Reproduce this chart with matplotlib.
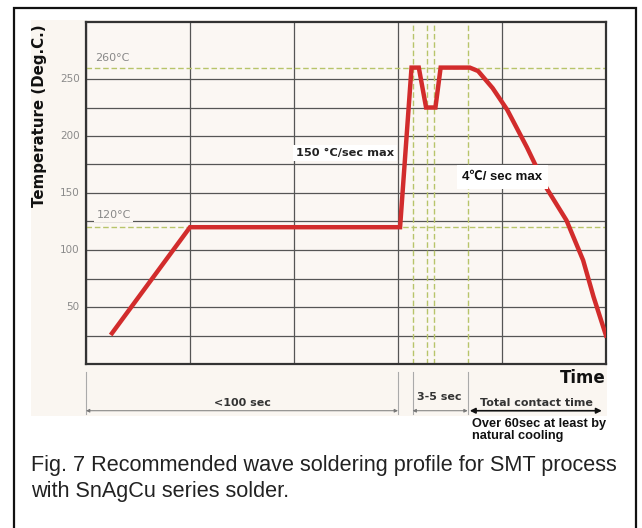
import matplotlib.pyplot as plt
from matplotlib.patches import Rectangle

# profile (time in arbitrary units, temperature in deg C)
time_pts = [25, 100, 302, 313, 320, 327, 336, 341, 369, 377, 391, 405, 424, 443, 462, 478, 488, 500]
temp_pts = [27, 120, 120, 260, 260, 225, 225, 260, 260, 257, 242, 223, 190, 154, 126, 91, 59, 25]

y_ticks = [50, 100, 150, 200, 250]
ref_temps = [260, 120]
ref_times = [314, 328, 335, 367]

W, H = 642, 528
fig = plt.figure(figsize=(W / 100, H / 100), dpi=100)
fig.patch.set_facecolor('white')

# outer frame and cream picture area
fig.add_artist(Rectangle((14 / W, -0.05), 622 / W, 1 - 8 / H + 0.05, transform=fig.transFigure,
                         fill=False, ec='#111111', lw=1.6))
fig.add_artist(Rectangle((31 / W, 1 - 416 / H), 576 / W, 396 / H, transform=fig.transFigure,
                         fc='#faf6f1', ec='none', zorder=0))

bg = '#fbf7f3'
ax = fig.add_axes([86 / W, 1 - 364 / H, 520 / W, 342 / H])
ax.set_facecolor(bg)
ax.set_xlim(0, 500)
ax.set_ylim(0, 300)
ax.set_xticks(range(0, 501, 100))
ax.set_yticks(range(0, 251, 25))
ax.grid(True, color='#555555', lw=0.9)
ax.tick_params(length=0, labelbottom=False, labelleft=False)
for s in ax.spines.values():
    s.set_color('#333333')
    s.set_linewidth(1.6)

for y in y_ticks:
    ax.text(-6, y, str(y), ha='right', va='center', fontsize=7.5, color='#8a8a8a')

for t in ref_temps:
    ax.axhline(t, color='#b8c46a', lw=1.0, ls=(0, (4, 2)), zorder=2)
for t in ref_times:
    ax.axvline(t, color='#b8c46a', lw=1.0, ls=(0, (4, 2)), zorder=2)

ax.text(9, 268, '260\u00b0C', fontsize=8, color='#888888', va='center',
        bbox=dict(fc=bg, ec='none', pad=1), zorder=3)
ax.text(10, 131, '120\u00b0C', fontsize=8, color='#888888', va='center',
        bbox=dict(fc=bg, ec='none', pad=1.5), zorder=3)

ax.plot(time_pts, temp_pts, color='#d22c2c', lw=3.2, solid_joinstyle='miter', zorder=4)

ax.text(202, 185, '150 \u00b0C/sec max', fontsize=8.2, fontweight='bold', color='#222222',
        va='center', ha='left', bbox=dict(fc='white', ec='none', pad=2), zorder=5)
ax.text(362, 164, '4\u2103/ sec max', fontsize=9.5, fontweight='bold', color='#111111',
        va='center', ha='left', bbox=dict(fc='white', ec='none', pad=4), zorder=5,
        family=['Liberation Sans', 'Noto Sans CJK SC', 'DejaVu Sans'])

fig.text(40 / W, 1 - 116 / H, 'Temperature (Deg.C.)', rotation=90, ha='center', va='center',
         fontsize=10.8, fontweight='bold', color='#111111')

# dimension lines below the axis
y_arr = -41
for x in [0, 300, 314, 367]:
    ax.plot([x, x], [-7, -44], color='#aaaaaa', lw=0.8, clip_on=False)
for x0, x1 in [(0, 300), (314, 367)]:
    ax.annotate('', xy=(x0, y_arr), xytext=(x1, y_arr),
                arrowprops=dict(arrowstyle='<|-|>', color='#777777', lw=0.7,
                                mutation_scale=5, shrinkA=0, shrinkB=0),
                annotation_clip=False)
ax.annotate('', xy=(369, y_arr), xytext=(496, y_arr),
            arrowprops=dict(arrowstyle='<|-|>', color='#111111', lw=1.2,
                            mutation_scale=8, shrinkA=0, shrinkB=0),
            annotation_clip=False)
ax.text(150, -34, '<100 sec', ha='center', va='center', fontsize=8, fontweight='bold', color='#333333')
ax.text(340, -29, '3-5 sec', ha='center', va='center', fontsize=8, fontweight='bold', color='#333333')
ax.text(433, -34, 'Total contact time', ha='center', va='center', fontsize=8, fontweight='bold', color='#333333')
ax.text(500, -12, 'Time', ha='right', va='center', fontsize=12, fontweight='bold', color='#111111')

fig.text(472 / W, 1 - 430 / H, 'Over 60sec at least by\nnatural cooling', ha='left', va='center',
         fontsize=9.2, fontweight='bold', family='Liberation Sans', color='#111111', linespacing=1.0)

fig.text(31 / W, 1 - 471 / H, 'Fig. 7 Recommended wave soldering profile for SMT process',
         fontsize=15.6, family='Liberation Sans', color='#222222', va='baseline')
fig.text(31 / W, 1 - 497 / H, 'with SnAgCu series solder.',
         fontsize=15.6, family='Liberation Sans', color='#222222', va='baseline')

fig.savefig('out.png', dpi=100)
